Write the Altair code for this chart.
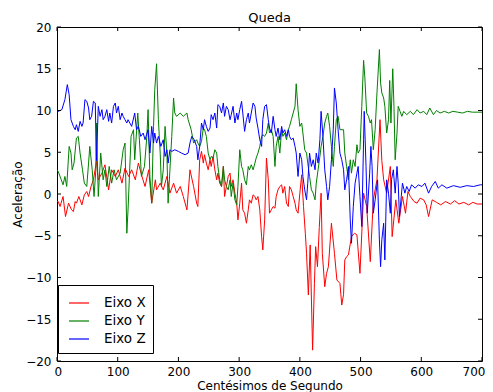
import altair as alt
import pandas as pd

title_text = "Queda"
x_title = "Centésimos de Segundo"
y_title = "Aceleração"
series_names = ["Eixo X", "Eixo Y", "Eixo Z"]
series_colors = ["#ff0000", "#008000", "#0000ff"]
x_ticks = [0, 100, 200, 300, 400, 500, 600, 700]
y_ticks = [-20, -15, -10, -5, 0, 5, 10, 15, 20]

# (centésimos, aceleração)
eixo_x = [(0,-0.9),(2,-0.9),(5,-1.5),(10,-0.3),(14,-2.7),(19,-1.1),(24,-1.9),(27,-2.1),(30,-0.9),(32,-1.1),(36,-0.3),(41,-1.3),(45,-0.1),(49,0.3),(52,-0.3),(56,0.9),(60,1.7),(65,3.9),(68,1.7),(74,2.5),(79,3.5),(85,0.5),(90,2.9),(96,2.1),(101,2.9),(107,1.3),(112,3.1),(118,2.1),(123,2.9),(129,1.7),(134,3.7),(140,2.1),(145,0.9),(151,2.9),(156,-1.1),(162,1.7),(164,0.5),(170,1.3),(175,0.5),(181,2.1),(186,0.1),(192,1.3),(197,0.1),(203,0.9),(208,-0.3),(214,-1.9),(219,2.9),(225,0.9),(230,-1.1),(232,-1.5),(235,4.1),(238,5.1),(241,3.7),(243,4.7),(246,3.7),(249,2.9),(252,4.1),(254,3.3),(257,4.5),(260,2.9),(263,1.7),(265,2.5),(268,1.3),(271,0.9),(274,3.3),(276,-0.3),(279,0.9),(282,2.1),(285,2.5),(287,0.9),(290,1.7),(293,0.1),(296,-1.1),(298,-3.1),(301,-1.1),(304,1.3),(306,-1.9),(309,-2.3),(312,-3.5),(315,-1.9),(317,-0.7),(320,-1.1),(323,-0.1),(326,-0.3),(328,-0.7),(331,-0.3),(334,-1.9),(337,-5.1),(339,-6.7),(342,-3.1),(345,4.3),(348,1.7),(350,-2.3),(353,-1.9),(356,-1.5),(359,-1.7),(361,-0.3),(364,0.5),(367,0.9),(370,1.1),(372,0.1),(375,0.9),(378,-1.1),(381,-1.5),(383,0.9),(386,0.5),(389,-0.3),(392,-1.1),(394,-1.9),(397,-2.3),(400,0.1),(403,2.3),(406,-1.5),(409,-4.7),(411,-7.1),(414,-12.1),(417,-6.1),(421,-18.7),(424,-10.7),(426,-6.3),(429,-8.7),(432,-4.0),(435,0.1),(437,-7.1),(441,-11.1),(444,-9.5),(447,-8.7),(452,-3.5),(457,-7.1),(461,-10.3),(466,-10.7),(469,-13.3),(472,-12.0),(474,-7.9),(477,-7.5),(480,-7.3),(485,-5.1),(490,-4.7),(494,-4.9),(499,-9.5),(505,0.1),(510,-1.5),(516,-8.1),(521,-0.7),(527,1.7),(532,8.9),(535,4.0),(538,1.7),(543,0.1),(549,3.3),(552,-5.1),(558,-0.7),(563,-3.5),(569,-0.3),(574,-2.3),(578,0.3),(582,-0.3),(588,-0.9),(593,-1.1),(598,-0.5),(604,-0.7),(608,-1.3),(612,-2.7),(618,-0.7),(625,-1.0),(632,-1.3),(640,-0.9),(648,-1.2),(655,-0.8),(662,-1.2),(670,-1.0),(678,-1.3),(685,-1.0),(692,-1.2),(700,-1.2)]

eixo_y = [(0,2.9),(2,2.7),(7,1.7),(10,1.1),(13,2.1),(16,0.9),(20,5.7),(23,4.9),(25,2.9),(28,3.7),(32,6.7),(35,6.9),(38,4.9),(42,2.9),(45,1.3),(49,0.9),(52,3.7),(54,5.7),(58,2.9),(61,-0.3),(64,2.9),(65,8.5),(68,-0.3),(72,4.9),(76,1.7),(79,2.9),(82,0.9),(86,3.3),(90,1.3),(94,2.9),(98,1.7),(104,2.5),(109,5.3),(112,6.1),(115,-4.7),(117,-1.9),(122,6.9),(126,7.7),(128,4.1),(133,9.7),(137,4.9),(139,2.1),(144,3.3),(148,6.9),(150,10.1),(153,2.1),(156,-1.1),(159,8.1),(161,12.5),(164,15.6),(167,8.9),(170,4.9),(172,0.9),(175,2.9),(178,8.1),(181,4.9),(183,-1.1),(186,2.9),(189,6.9),(192,11.5),(194,9.7),(197,9.3),(203,9.7),(208,9.3),(214,9.7),(216,8.9),(221,7.7),(225,6.1),(230,6.5),(232,6.1),(235,5.7),(238,6.3),(241,7.9),(243,7.7),(246,6.9),(249,4.9),(252,4.1),(254,4.5),(257,4.3),(260,5.3),(263,4.9),(265,3.3),(268,1.7),(271,0.9),(274,3.3),(276,1.7),(279,0.9),(282,0.5),(285,1.7),(287,-0.3),(290,1.3),(293,-0.7),(296,-1.3),(298,0.9),(301,5.3),(304,3.3),(306,2.9),(309,1.7),(312,1.1),(315,3.3),(317,2.9),(320,3.5),(323,2.9),(326,3.7),(328,4.3),(331,4.9),(334,5.7),(337,6.9),(339,7.1),(342,6.9),(345,7.3),(348,8.5),(350,7.3),(353,7.7),(356,6.9),(359,3.3),(361,5.7),(364,6.9),(367,4.9),(370,7.7),(372,6.9),(375,7.3),(378,6.5),(381,7.7),(383,8.1),(386,8.9),(389,9.7),(392,10.5),(394,13.2),(397,10.1),(400,8.1),(403,8.5),(405,7.3),(408,5.3),(411,4.9),(413,3.7),(416,2.1),(419,0.5),(422,0.1),(425,-0.7),(427,1.3),(430,2.9),(433,4.5),(435,5.7),(438,6.9),(441,8.5),(444,9.3),(446,9.7),(449,8.1),(452,5.7),(455,3.3),(457,5.7),(460,8.9),(463,9.3),(466,7.7),(472,7.7),(474,4.9),(477,3.3),(480,1.7),(483,4.1),(485,2.5),(488,4.1),(491,3.3),(494,5.9),(496,4.9),(499,5.3),(502,10.5),(505,16.0),(507,14.0),(510,9.7),(513,9.3),(516,8.5),(518,8.9),(521,5.3),(524,7.7),(527,12.1),(531,17.3),(533,13.3),(535,12.1),(538,11.5),(540,10.5),(543,7.3),(546,8.9),(548,13.6),(550,8.5),(553,15.0),(555,10.5),(557,4.1),(560,7.3),(562,10.5),(565,9.9),(568,9.3),(571,9.9),(576,9.5),(582,9.9),(587,9.5),(593,10.1),(598,9.7),(604,9.9),(609,9.5),(614,10.3),(620,9.5),(625,10.0),(631,9.7),(638,9.9),(645,9.7),(652,9.9),(660,9.8),(668,9.7),(676,9.9),(684,9.8),(692,9.8),(700,9.8)]

eixo_z = [(0,9.7),(2,9.9),(8,10.1),(13,11.3),(17,13.1),(20,11.9),(23,8.9),(27,8.1),(30,7.7),(32,8.3),(35,7.5),(38,8.7),(41,8.1),(43,8.5),(46,11.3),(49,11.1),(52,10.3),(54,8.9),(57,9.3),(60,11.1),(63,10.9),(65,4.0),(68,10.5),(71,9.3),(74,10.1),(76,8.9),(79,9.3),(82,10.1),(85,8.7),(87,9.7),(90,8.5),(93,10.5),(96,10.9),(98,9.7),(101,10.5),(104,8.9),(107,9.7),(109,9.3),(112,8.9),(115,8.5),(117,8.9),(123,8.1),(128,9.7),(131,7.7),(134,8.1),(138,6.9),(142,7.3),(145,6.5),(150,7.7),(153,4.9),(156,8.1),(159,6.1),(161,7.3),(164,6.1),(167,6.9),(171,5.7),(175,6.5),(178,4.5),(181,5.3),(183,3.7),(186,5.3),(189,5.1),(194,5.3),(200,5.1),(205,4.9),(211,4.7),(216,4.9),(219,6.1),(222,6.9),(226,6.5),(230,5.7),(232,4.1),(235,5.7),(238,8.5),(241,7.7),(243,8.9),(246,8.1),(249,7.5),(252,7.9),(254,9.5),(257,8.9),(260,9.7),(263,7.9),(265,10.7),(268,10.5),(271,9.7),(274,10.9),(276,9.3),(279,10.5),(282,10.1),(285,8.9),(287,9.5),(290,10.5),(293,8.5),(296,9.7),(298,8.9),(301,10.1),(304,11.1),(306,9.7),(309,7.5),(312,8.9),(315,9.7),(317,8.5),(320,9.7),(323,10.9),(326,10.5),(328,9.1),(331,7.9),(334,6.5),(337,5.7),(339,8.9),(342,10.5),(345,10.7),(348,8.9),(350,7.9),(353,7.3),(356,9.3),(359,7.7),(361,6.9),(364,7.9),(367,6.5),(370,8.1),(372,7.3),(375,7.7),(378,6.9),(381,7.7),(383,6.9),(386,6.5),(389,6.7),(392,5.7),(394,4.9),(397,2.1),(400,4.9),(403,4.1),(405,2.1),(408,0.5),(411,-0.7),(413,1.3),(416,4.9),(419,3.3),(422,4.1),(425,2.9),(427,4.9),(430,3.7),(433,6.5),(435,9.9),(438,6.9),(441,2.9),(444,0.9),(446,-0.7),(449,0.9),(452,4.1),(455,7.7),(457,12.7),(460,10.9),(463,7.7),(466,4.9),(469,4.1),(472,2.9),(474,0.5),(477,1.7),(480,3.3),(483,-3.1),(485,-5.9),(488,-1.5),(491,1.3),(494,2.5),(496,3.3),(499,-0.3),(502,-3.9),(505,6.5),(506,9.9),(509,3.3),(511,-2.3),(515,2.5),(517,5.7),(519,3.3),(521,-2.3),(524,-0.7),(528,1.7),(531,-5.5),(533,-8.7),(535,-5.5),(538,-3.5),(540,-7.9),(543,1.7),(546,0.1),(549,-2.3),(551,1.7),(554,2.9),(557,0.1),(560,3.3),(562,1.3),(564,-2.7),(567,-0.3),(569,1.3),(573,0.1),(576,0.9),(580,0.3),(584,1.1),(590,0.7),(595,1.1),(601,0.9),(606,1.3),(612,0.1),(617,0.9),(623,1.5),(628,0.7),(634,1.1),(642,0.7),(653,1.0),(664,0.8),(675,1.0),(686,0.9),(697,1.1),(700,1.1)]

rows = []
for name, pts in zip(series_names, [eixo_x, eixo_y, eixo_z]):
    for t, v in pts:
        rows.append({"t": t, "v": v, "serie": name})
df = pd.DataFrame(rows)

W, H = 425, 334
FONT = "DejaVu Sans"
xs = alt.Scale(domain=[0, 700], nice=False, zero=False)
ys = alt.Scale(domain=[-20, 20], nice=False, zero=False)
x_axis = alt.Axis(values=x_ticks, title=x_title, ticks=False, domain=False, grid=False,
                  labelPadding=5, titlePadding=3, labelFlush=True, labelFlushOffset=3)
y_axis = alt.Axis(values=y_ticks, title=y_title, ticks=False, domain=False, grid=False,
                  labelPadding=6, titlePadding=1, labelFlush=False)

lines = alt.Chart(df).mark_line(strokeWidth=1, clip=True).encode(
    x=alt.X("t:Q", scale=xs, axis=x_axis),
    y=alt.Y("v:Q", scale=ys, axis=y_axis),
    color=alt.Color("serie:N",
                    scale=alt.Scale(domain=series_names, range=series_colors),
                    legend=alt.Legend(
                        title=None, orient="none", legendX=1, legendY=258,
                        symbolType="stroke", symbolSize=400, symbolStrokeWidth=1.2,
                        symbolOffset=3, labelOffset=14,
                        labelFontSize=13.5, labelFont=FONT, labelColor="black",
                        padding=7, rowPadding=0,
                        strokeColor="black", fillColor="white")),
)

xt = pd.DataFrame({"t": x_ticks})
yt = pd.DataFrame({"v": y_ticks})
tick_len = 4
top_ticks = alt.Chart(xt).mark_rule(color="black").encode(
    x=alt.X("t:Q", scale=xs, axis=x_axis), y=alt.value(0), y2=alt.value(tick_len))
bot_ticks = alt.Chart(xt).mark_rule(color="black").encode(
    x=alt.X("t:Q", scale=xs, axis=x_axis), y=alt.value(H), y2=alt.value(H - tick_len))
left_ticks = alt.Chart(yt).mark_rule(color="black").encode(
    y=alt.Y("v:Q", scale=ys, axis=y_axis), x=alt.value(0), x2=alt.value(tick_len))
right_ticks = alt.Chart(yt).mark_rule(color="black").encode(
    y=alt.Y("v:Q", scale=ys, axis=y_axis), x=alt.value(W), x2=alt.value(W - tick_len))

chart = alt.layer(lines, top_ticks, bot_ticks, left_ticks, right_ticks).properties(
    width=W, height=H,
    title=alt.TitleParams(title_text, fontSize=13, font=FONT, fontWeight="normal",
                          anchor="middle", color="black", offset=-4),
    padding={"left": 49, "top": 19, "right": 3, "bottom": 31},
    autosize=alt.AutoSizeParams(type="none"),
    background="white",
).configure_view(stroke="black", strokeWidth=1).configure_axis(
    labelFont=FONT, labelFontSize=12, labelColor="black",
    titleFont=FONT, titleFontSize=12, titleFontWeight="normal", titleColor="black",
)

chart.save("out.html", embed_options={"renderer": "svg", "actions": False})
